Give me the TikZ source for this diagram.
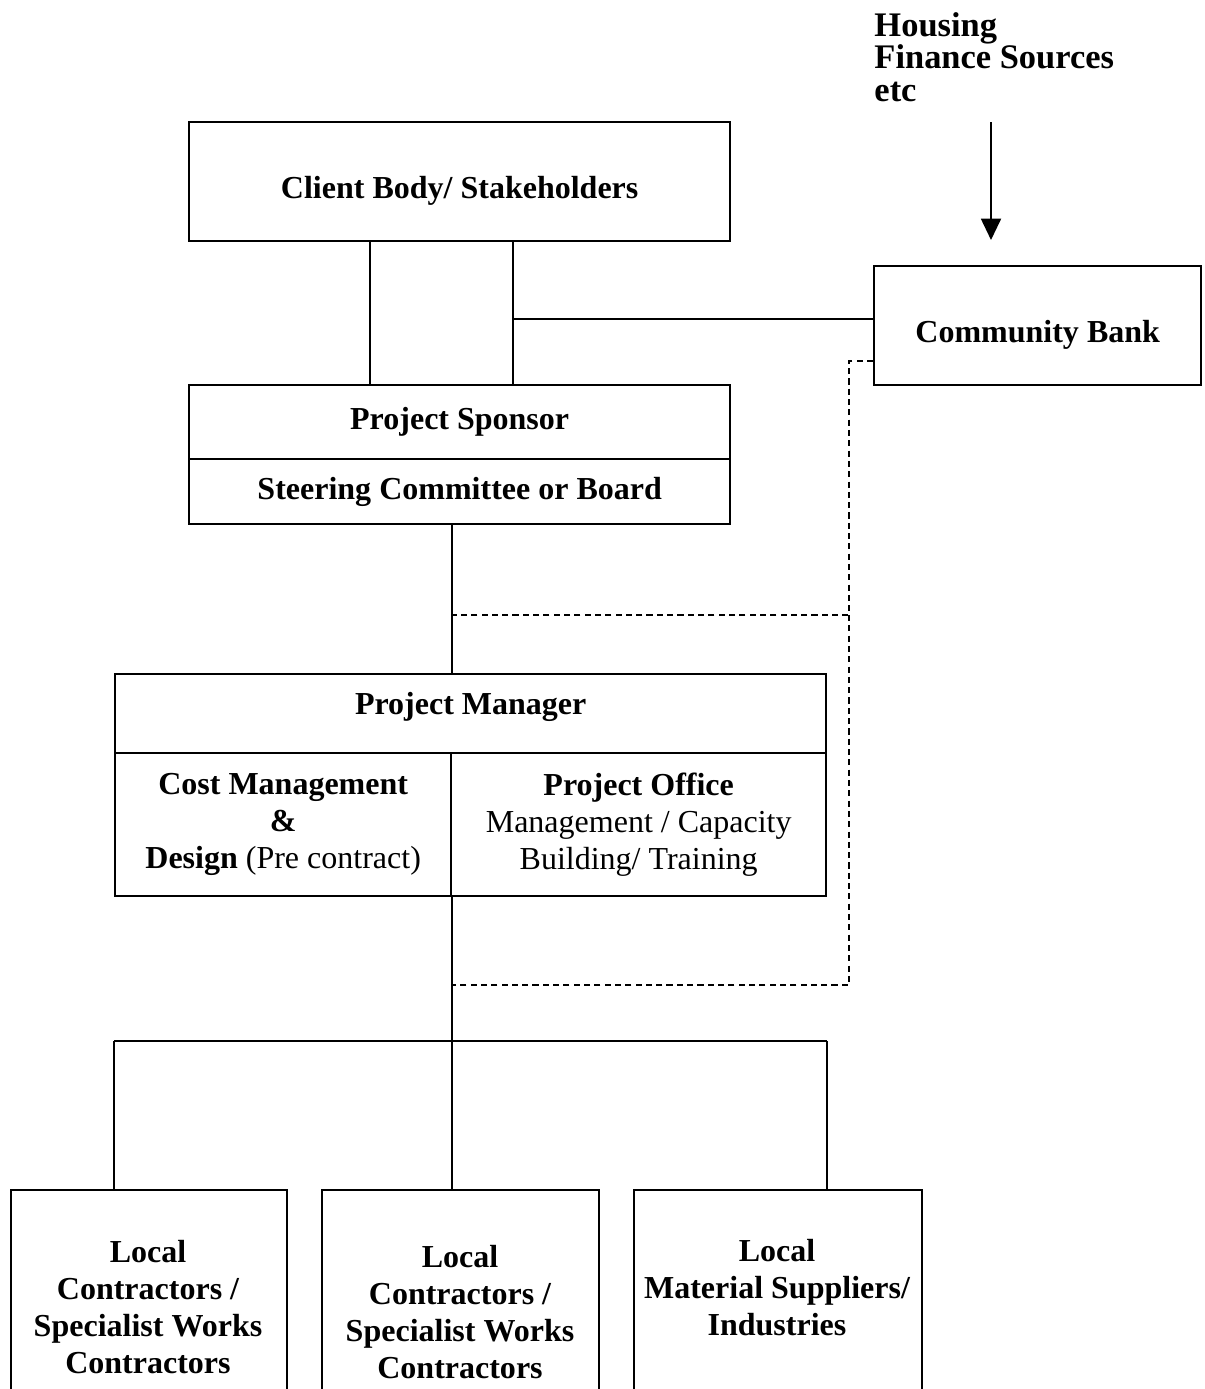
\documentclass[tikz,border=0pt]{standalone}
\usepackage{fontspec}
\setmainfont{Liberation Serif}
\usetikzlibrary{arrows.meta,positioning,calc}
\newcommand{\px}{0.015cm}
\newcommand{\orgfont}{\fontsize{13.66pt}{15.8pt}\selectfont}
\tikzset{
  >={Triangle[length=3.2mm,width=3mm]},
  orgbox/.style ={draw=black,line width=1pt,fill=white,font=\orgfont\bfseries,
                  align=center,inner sep=2pt,anchor=north west},
  lowtext/.style={text height=1.7em,text depth=0.25em},
  hightext/.style={text height=0.7em,text depth=0.6em},
  openbox/.style={draw=black,line width=1pt,anchor=north west},
  txt/.style    ={font=\orgfont\bfseries,align=center,inner sep=0pt},
  link/.style   ={draw=black,line width=0.8pt},
  soft/.style   ={draw=black,line width=0.8pt,dash pattern=on 2.6pt off 1.8pt},
}

\begin{document}
\begin{tikzpicture}[x=\px,y=-\px,font=\orgfont]
\useasboundingbox (0,0) rectangle (1204,1389);
\clip (0,0) rectangle (1204,1389);
% upper tiers
\node[orgbox,lowtext,minimum width=541*\px,minimum height=119*\px] (cbody) at (188,121)
 {Client Body/ Stakeholders};
\node[orgbox,lowtext,minimum width=327*\px,minimum height=119*\px] (cb) at (873,265)
 {Community Bank};
\node[txt,align=left,anchor=west,font=\fontsize{14.7pt}{13.9pt}\selectfont\bfseries] (hfs) at (874,57)
 {Housing\\Finance Sources\\etc};
\node[orgbox,minimum width=541*\px,minimum height=74*\px] (ps) at (188,384)
 {Project Sponsor};
\node[orgbox,minimum width=541*\px,minimum height=65*\px] (sc) at (188,458)
 {Steering Committee or Board};
% project manager block
\node[orgbox,hightext,minimum width=711*\px,minimum height=79*\px] (pm) at (114,673)
 {Project Manager};
\node[orgbox,minimum width=336*\px,minimum height=143*\px] (cm) at (114,752)
 {Cost Management\\\&\\Design \textmd{(Pre contract)}};
\node[orgbox,minimum width=375*\px,minimum height=143*\px] (po) at (450,752)
 {Project Office\\\textmd{Management / Capacity}\\\textmd{Building/ Training}};
% bottom tier, cut by the page edge
\node[openbox,minimum width=276*\px,minimum height=260*\px] (lc1box) at (10,1189) {};
\node[openbox,minimum width=277*\px,minimum height=260*\px] (lc2box) at (321,1189) {};
\node[openbox,minimum width=288*\px,minimum height=260*\px] (msbox) at (633,1189) {};
\node[txt] (lc1) at (148,1307) {Local\\Contractors /\\Specialist Works\\Contractors};
\node[txt] (lc2) at (460,1312) {Local\\Contractors /\\Specialist Works\\Contractors};
\node[txt] (ms) at (777,1288) {Local\\Material Suppliers/\\Industries};
% connectors
\coordinate (j1) at ([xshift=182*\px]cbody.south west);
\coordinate (j2) at ([xshift=325*\px]cbody.south west);
\draw[link] (j1) -- (j1 |- ps.north);
\draw[link] (j2) -- (j2 |- ps.north);
\draw[link] ([yshift=6.5*\px]cb.west) -- ([yshift=6.5*\px]cb.west -| j2);
\draw[link,->,shorten <=3mm,shorten >=3.75mm] (hfs.south -| 991,0) -- (cb.north -| 991,0);
\draw[link] (cm.north east |- sc.south) -- (cm.north east |- pm.north);
\coordinate (bus) at (cm.south east |- 0,1041);
\draw[link] (cm.south east) -- (bus);
\draw[link] (bus -| cm.south west) -- (bus -| po.south east);
\draw[link] (bus -| cm.south west) -- (lc1box.north -| cm.south west);
\draw[link] (bus) -- (lc2box.north -| bus);
\draw[link] (bus -| po.south east) -- (msbox.north -| po.south east);
% dashed finance links
\coordinate (dk) at (849,615);
\coordinate (dl) at (849,985);
\draw[soft] ([yshift=-35.5*\px]cb.west) -| (dk) -- (dk -| cm.north east);
\draw[soft] (dk) -- (dl) -- (dl -| cm.north east);
\end{tikzpicture}
\end{document}
